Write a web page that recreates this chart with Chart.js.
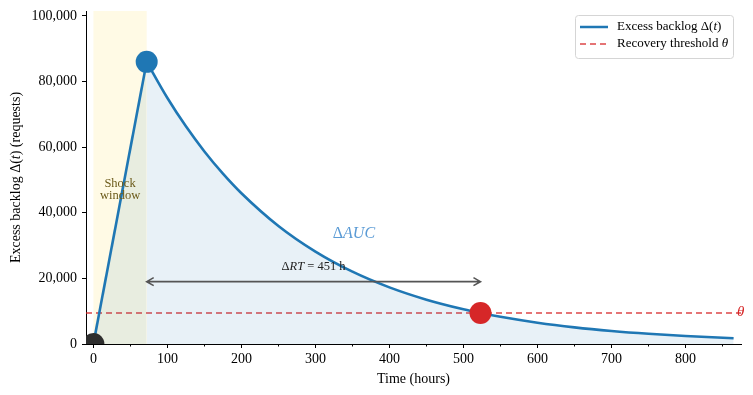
<!DOCTYPE html>
<html lang="en">
<head>
    <title>Excess backlog</title>
    <script src="https://cdn.jsdelivr.net/npm/chart.js"></script>
    <style>
        html, body { margin: 0; padding: 0; background: #fff; }
        #wrap { width: 753px; height: 395px; }
    </style>
</head>
<body>
    <div id="wrap"><canvas id="backlogChart" width="753" height="395"></canvas></div>

    <script>
        // ramp during the shock, then the decay (hours, requests)
        var rampHours = [0, 72];
        var rampBacklog = [0, 86000];
        var decayHours = [72, 100, 125, 150, 175, 200, 250, 300, 350, 400, 450, 500, 523, 550, 600, 650, 700, 750, 800, 865];
        var decayBacklog = [86000, 74980, 66340, 58690, 51930, 45950, 35970, 28160, 22040, 17260, 13510, 10580, 9450, 8280, 6480, 5070, 3970, 3110, 2430, 1770];

        var xTicks = [0, 100, 200, 300, 400, 500, 600, 700, 800];
        var yTicks = [0, 20000, 40000, 60000, 80000, 100000];

        var threshold = 9450;
        var shockStart = 0, shockEnd = 72;
        var peakPoint = { x: 72, y: 86000 };
        var recoveryPoint = { x: 523, y: 9450 };
        var startPoint = { x: 0, y: 0 };
        var arrowLevel = 19000;
        var recoveryTime = 451;

        var serif = '"Liberation Serif", "DejaVu Serif", serif';
        var blue = '#1f77b4';
        var red = '#d62728';

        function toXY(xs, ys) {
            var out = [];
            for (var i = 0; i < xs.length; i++) out.push({ x: xs[i], y: ys[i] });
            return out;
        }

        // draw text made of [string, italic] runs
        function drawRuns(ctx, runs, x, y, size, align) {
            var total = 0;
            runs.forEach(function(r) {
                ctx.font = (r[1] ? 'italic ' : '') + size + 'px ' + serif;
                total += ctx.measureText(r[0]).width;
            });
            var cx = align === 'center' ? x - total / 2 : x;
            ctx.textAlign = 'left';
            runs.forEach(function(r) {
                ctx.font = (r[1] ? 'italic ' : '') + size + 'px ' + serif;
                ctx.fillText(r[0], cx, y);
                cx += ctx.measureText(r[0]).width;
            });
        }

        var extras = {
            id: 'extras',
            beforeDatasetsDraw: function(chart) {
                var ctx = chart.ctx, xs = chart.scales.x, a = chart.chartArea;
                ctx.save();
                ctx.fillStyle = 'rgba(255, 236, 160, 0.28)';
                var x1 = xs.getPixelForValue(shockStart), x2 = xs.getPixelForValue(shockEnd);
                ctx.fillRect(x1, a.top, x2 - x1, a.bottom - a.top);
                ctx.restore();
            },
            afterDatasetsDraw: function(chart) {
                var ctx = chart.ctx, xs = chart.scales.x, ys = chart.scales.y, a = chart.chartArea;
                ctx.save();

                // minor ticks on x
                ctx.strokeStyle = '#000';
                ctx.lineWidth = 1;
                for (var v = 50; v < xs.max; v += 100) {
                    var px = Math.round(xs.getPixelForValue(v)) + 0.5;
                    ctx.beginPath();
                    ctx.moveTo(px, a.bottom);
                    ctx.lineTo(px, a.bottom + 2.5);
                    ctx.stroke();
                }

                // recovery-time arrow
                var ax1 = xs.getPixelForValue(peakPoint.x), ax2 = xs.getPixelForValue(recoveryPoint.x);
                var ay = ys.getPixelForValue(arrowLevel);
                ctx.strokeStyle = '#555';
                ctx.lineWidth = 1.6;
                ctx.beginPath();
                ctx.moveTo(ax1, ay); ctx.lineTo(ax2, ay);
                ctx.moveTo(ax1 + 7, ay - 4); ctx.lineTo(ax1, ay); ctx.lineTo(ax1 + 7, ay + 4);
                ctx.moveTo(ax2 - 7, ay - 4); ctx.lineTo(ax2, ay); ctx.lineTo(ax2 - 7, ay + 4);
                ctx.stroke();

                ctx.textBaseline = 'middle';
                ctx.fillStyle = '#222';
                drawRuns(ctx, [['\u0394', false], ['RT', true], [' = ' + recoveryTime + ' h', false]],
                    (ax1 + ax2) / 2, ay - 15, 12.5, 'center');

                // area label
                ctx.fillStyle = '#5b9bd5';
                drawRuns(ctx, [['\u0394', false], ['AUC', true]],
                    xs.getPixelForValue(352), ys.getPixelForValue(33500), 16, 'center');

                // shock window label
                ctx.fillStyle = '#6b5a1a';
                ctx.font = '12.5px ' + serif;
                ctx.textAlign = 'center';
                var sx = xs.getPixelForValue((shockStart + shockEnd) / 2);
                ctx.fillText('Shock', sx, ys.getPixelForValue(49000));
                ctx.fillText('window', sx, ys.getPixelForValue(45300));

                // theta at right end of threshold
                ctx.fillStyle = red;
                drawRuns(ctx, [['\u03b8', true]], a.right - 4, ys.getPixelForValue(threshold) - 1, 15, 'left');

                // y-axis title with italic t
                ctx.save();
                ctx.translate(16, (a.top + a.bottom) / 2);
                ctx.rotate(-Math.PI / 2);
                ctx.fillStyle = '#000';
                drawRuns(ctx, [['Excess backlog \u0394(', false], ['t', true], [') (requests)', false]], 0, 0, 14, 'center');
                ctx.restore();

                // legend
                var lx = 575, ly = 15, lw = 158, lh = 43;
                ctx.fillStyle = 'rgba(255,255,255,0.85)';
                ctx.strokeStyle = '#d5d5d5';
                ctx.lineWidth = 1;
                ctx.beginPath();
                ctx.roundRect(lx + 0.5, ly + 0.5, lw, lh, 3);
                ctx.fill(); ctx.stroke();

                ctx.strokeStyle = blue;
                ctx.lineWidth = 2.5;
                ctx.beginPath(); ctx.moveTo(580, 27); ctx.lineTo(608, 27); ctx.stroke();
                ctx.strokeStyle = red;
                ctx.globalAlpha = 0.85;
                ctx.lineWidth = 1.5;
                ctx.setLineDash([6, 4]);
                ctx.beginPath(); ctx.moveTo(580, 44); ctx.lineTo(608, 44); ctx.stroke();
                ctx.setLineDash([]);
                ctx.globalAlpha = 1;

                ctx.fillStyle = '#000';
                drawRuns(ctx, [['Excess backlog \u0394(', false], ['t', true], [')', false]], 617, 27, 13, 'left');
                drawRuns(ctx, [['Recovery threshold ', false], ['\u03b8', true]], 617, 44, 13, 'left');

                ctx.restore();
            }
        };

        function setTicks(list) {
            return function(scale) {
                scale.ticks = list.map(function(v) { return { value: v }; });
            };
        }

        var ctx = document.getElementById('backlogChart').getContext('2d');
        var myChart = new Chart(ctx, {
            type: 'scatter',
            data: {
                datasets: [
                    {
                        label: 'start',
                        data: [startPoint],
                        pointRadius: 11,
                        backgroundColor: '#2e2e2e',
                        borderWidth: 0,
                        clip: 0,
                        order: 0
                    },
                    {
                        label: 'peak',
                        data: [peakPoint],
                        pointRadius: 11,
                        backgroundColor: blue,
                        borderWidth: 0,
                        order: 0
                    },
                    {
                        label: 'recovery',
                        data: [recoveryPoint],
                        pointRadius: 11,
                        backgroundColor: red,
                        borderWidth: 0,
                        order: 0
                    },
                    {
                        label: 'Excess backlog',
                        data: toXY(rampHours, rampBacklog),
                        showLine: true,
                        pointRadius: 0,
                        borderColor: blue,
                        borderWidth: 2.6,
                        fill: 'origin',
                        backgroundColor: 'rgba(31,119,180,0.1)',
                        order: 1
                    },
                    {
                        label: 'Excess backlog decay',
                        data: toXY(decayHours, decayBacklog),
                        showLine: true,
                        pointRadius: 0,
                        borderColor: blue,
                        borderWidth: 2.6,
                        cubicInterpolationMode: 'monotone',
                        fill: 'origin',
                        backgroundColor: 'rgba(31,119,180,0.1)',
                        order: 1
                    },
                    {
                        label: 'Recovery threshold',
                        data: [{ x: -10, y: threshold }, { x: 875, y: threshold }],
                        showLine: true,
                        pointRadius: 0,
                        borderColor: 'rgba(214,39,40,0.85)',
                        borderWidth: 1.5,
                        borderDash: [6, 4],
                        order: 2
                    }
                ]
            },
            options: {
                responsive: false,
                animation: false,
                events: [],
                layout: { padding: { left: 0, top: 8, right: 12, bottom: 0 } },
                plugins: {
                    legend: { display: false },
                    tooltip: { enabled: false }
                },
                scales: {
                    x: {
                        type: 'linear',
                        min: -10,
                        max: 875,
                        afterFit: function(s) { s.height = 51; s.paddingLeft = 0; s.paddingRight = 0; },
                        afterBuildTicks: setTicks(xTicks),
                        ticks: {
                            color: '#000',
                            padding: 3,
                            maxRotation: 0,
                            autoSkip: false,
                            font: { family: serif, size: 14 }
                        },
                        grid: { drawOnChartArea: false, tickLength: 4, tickColor: '#000' },
                        border: { color: '#000', width: 1 },
                        title: {
                            display: true,
                            text: 'Time (hours)',
                            color: '#000',
                            padding: { top: 0, bottom: 7 },
                            font: { family: serif, size: 14 }
                        }
                    },
                    y: {
                        min: 0,
                        max: 101500,
                        afterFit: function(s) { s.width = 86; s.paddingTop = 0; s.paddingBottom = 0; },
                        afterBuildTicks: setTicks(yTicks),
                        ticks: {
                            color: '#000',
                            padding: 5,
                            autoSkip: false,
                            font: { family: serif, size: 14 },
                            callback: function(v) { return v.toLocaleString('en-US'); }
                        },
                        grid: { drawOnChartArea: false, tickLength: 4, tickColor: '#000' },
                        border: { color: '#000', width: 1 }
                    }
                }
            },
            plugins: [extras]
        });
    </script>
</body>
</html>
